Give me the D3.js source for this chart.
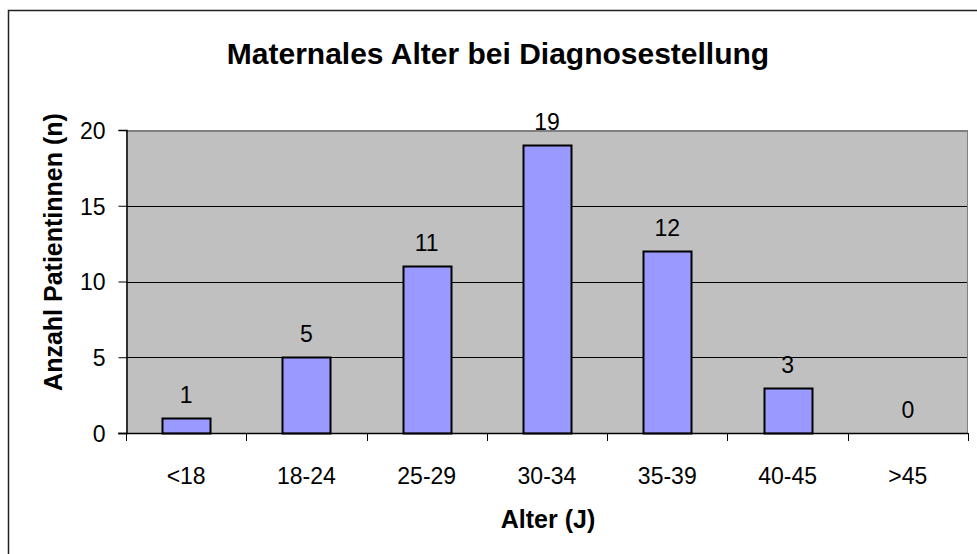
<!DOCTYPE html>
<html>
<head>
<meta charset="utf-8">
<script src="https://cdn.jsdelivr.net/npm/d3@7"></script>
<style>
  body { margin: 0; background: #fff; }
  text { font-family: "Liberation Sans", Arial, sans-serif; fill: #000; }
</style>
</head>
<body>
<div id="chart"></div>
<script>
var categories = ['<18', '18-24', '25-29', '30-34', '35-39', '40-45', '>45'];
var counts = [1, 5, 11, 19, 12, 3, 0];
var yTicks = [0, 5, 10, 15, 20];

var ctx = {
    w: 977,
    h: 554,
    left: 126,
    right: 968,
    top: 130,
    bottom: 433,
    labelSize: 23,
};

var svg = d3.select("#chart").append("svg")
    .attr("width", ctx.w)
    .attr("height", ctx.h);

// outer frame (right and bottom edges fall outside the picture)
svg.append("rect")
    .attr("x", 8.5).attr("y", 10.5)
    .attr("width", 1000).attr("height", 1000)
    .attr("fill", "none")
    .attr("stroke", "#222")
    .attr("stroke-width", 1.5);

var x = d3.scaleBand()
    .domain(categories)
    .range([ctx.left, ctx.right])
    .paddingInner(0.6)
    .paddingOuter(0.3);

var xEdges = d3.scaleLinear()
    .domain([0, categories.length])
    .range([ctx.left, ctx.right]);

var y = d3.scaleLinear()
    .domain([0, 20])
    .range([ctx.bottom, ctx.top]);

// plot background
svg.append("rect")
    .attr("x", ctx.left).attr("y", ctx.top)
    .attr("width", ctx.right - ctx.left)
    .attr("height", ctx.bottom - ctx.top)
    .attr("fill", "#c0c0c0");

// gridlines
svg.append("g").selectAll("line")
    .data(yTicks.filter(d => d > 0 && d < 20))
    .enter()
    .append("line")
    .attr("x1", ctx.left).attr("x2", ctx.right)
    .attr("y1", d => Math.round(y(d)) + 0.5)
    .attr("y2", d => Math.round(y(d)) + 0.5)
    .attr("stroke", "#000")
    .attr("stroke-width", 1);

svg.append("line")
    .attr("x1", ctx.left).attr("x2", ctx.right)
    .attr("y1", Math.round(y(20)) + 1).attr("y2", Math.round(y(20)) + 1)
    .attr("stroke", "#808080")
    .attr("stroke-width", 2);

svg.append("line")
    .attr("x1", ctx.right - 0.5).attr("x2", ctx.right - 0.5)
    .attr("y1", ctx.top).attr("y2", ctx.bottom)
    .attr("stroke", "#808080")
    .attr("stroke-width", 1);

// bars
svg.append("g").selectAll("rect")
    .data(categories.map((c, i) => ({ cat: c, n: counts[i] })))
    .enter()
    .filter(d => d.n > 0)
    .append("rect")
    .attr("x", d => Math.round(x(d.cat)) + 0.5)
    .attr("y", d => Math.round(y(d.n)) + 0.5)
    .attr("width", Math.round(x.bandwidth()))
    .attr("height", d => Math.round(y(0)) - Math.round(y(d.n)))
    .attr("fill", "#9999ff")
    .attr("stroke", "#000")
    .attr("stroke-width", 2);

// value labels
svg.append("g").selectAll("text")
    .data(counts)
    .enter()
    .append("text")
    .attr("x", (d, i) => x(categories[i]) + x.bandwidth() / 2)
    .attr("y", d => y(d) - 15)
    .attr("text-anchor", "middle")
    .attr("font-size", ctx.labelSize + "px")
    .text(d => d);

// y axis
var yAxis = d3.axisLeft(y)
    .tickValues(yTicks)
    .tickSize(8)
    .tickPadding(13);

var yG = svg.append("g")
    .attr("transform", "translate(" + (ctx.left + 0.5) + ",0)")
    .call(yAxis);
yG.selectAll("text")
    .attr("font-size", ctx.labelSize + "px")
    .attr("font-family", null)
    .attr("dy", "0.36em");
yG.selectAll("line").attr("stroke", "#000");
yG.select(".domain").attr("stroke", "#000").attr("stroke-width", 1.5);

// x axis baseline + category boundary ticks
svg.append("line")
    .attr("x1", ctx.left - 8).attr("x2", ctx.right)
    .attr("y1", y(0) + 0.5).attr("y2", y(0) + 0.5)
    .attr("stroke", "#000")
    .attr("stroke-width", 1.5);

svg.append("g").selectAll("line")
    .data(d3.range(categories.length + 1))
    .enter()
    .append("line")
    .attr("x1", d => Math.round(xEdges(d)) + 0.5)
    .attr("x2", d => Math.round(xEdges(d)) + 0.5)
    .attr("y1", y(0)).attr("y2", y(0) + 8)
    .attr("stroke", "#000");

svg.append("g").selectAll("text")
    .data(categories)
    .enter()
    .append("text")
    .attr("x", d => x(d) + x.bandwidth() / 2)
    .attr("y", 484)
    .attr("text-anchor", "middle")
    .attr("font-size", ctx.labelSize + "px")
    .text(d => d);

// titles
svg.append("text")
    .attr("x", 498)
    .attr("y", 64)
    .attr("text-anchor", "middle")
    .attr("font-size", "30px")
    .attr("font-weight", "bold")
    .text("Maternales Alter bei Diagnosestellung");

svg.append("text")
    .attr("x", 548)
    .attr("y", 528)
    .attr("text-anchor", "middle")
    .attr("font-size", "25px")
    .attr("font-weight", "bold")
    .text("Alter (J)");

svg.append("text")
    .attr("transform", "translate(62,252) rotate(-90)")
    .attr("text-anchor", "middle")
    .attr("font-size", "25px")
    .attr("font-weight", "bold")
    .text("Anzahl Patientinnen (n)");
</script>
</body>
</html>
